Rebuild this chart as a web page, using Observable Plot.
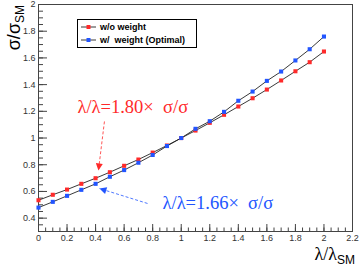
<!DOCTYPE html>
<html><head><meta charset="utf-8">
<script src="https://cdn.jsdelivr.net/npm/d3@7"></script>
<script src="https://cdn.jsdelivr.net/npm/@observablehq/plot@0.6"></script>
<style>
body{margin:0;background:#fff;}
#wrap{position:relative;width:359px;height:272px;overflow:hidden;}
.leg{position:absolute;left:77px;top:19px;width:118px;height:27px;border:1px solid #000;background:#fff;font:bold 9px "Liberation Sans",Arial,sans-serif;color:#000;}
.row{position:absolute;left:3px;height:12px;display:flex;align-items:center;white-space:pre;}
.row svg{margin-right:4px;}
.ann-text text{font-family:"Liberation Serif","Times New Roman",serif !important;}
</style></head>
<body><div id="wrap"></div>
<script>
const lambdas = [0,0.1,0.2,0.3,0.4,0.5,0.6,0.7,0.8,0.9,1.0,1.1,1.2,1.3,1.4,1.5,1.6,1.7,1.8,1.9,2.0];
const noWeight = [0.534,0.575,0.614,0.657,0.699,0.744,0.792,0.839,0.891,0.944,1.0,1.056,1.114,1.174,1.236,1.298,1.363,1.431,1.50,1.568,1.648];
const withWeight = [0.479,0.522,0.567,0.612,0.657,0.710,0.760,0.815,0.873,0.94,1.0,1.069,1.126,1.196,1.279,1.348,1.428,1.498,1.581,1.665,1.760];
const seriesNames = ["w/o weight", "w/  weight (Optimal)"];
const seriesColors = ["#ff2a2a", "#2255ff"];
const xMajor = [0,0.2,0.4,0.6,0.8,1.0,1.2,1.4,1.6,1.8,2.0,2.2];
const xMinor = d3.range(0, 2.2001, 0.05);
const yMajor = [0.4,0.6,0.8,1.0,1.2,1.4,1.6,1.8,2.0];
const yMinor = d3.range(0.3, 2.0001, 0.05);
const noteTexts = ["λ/λ=1.80×\u00a0\u00a0σ/σ", "λ/λ=1.66×\u00a0\u00a0σ/σ"];
const noteX = [0.273, 0.869];
const noteY = [1.191, 0.472];
const arrowX1 = [0.462, 0.764], arrowY1 = [1.124, 0.510];
const arrowX2 = [0.42, 0.427], arrowY2 = [0.757, 0.622];

const rows = lambdas.map((x,i)=>({x, y: noWeight[i], s: 0})).concat(lambdas.map((x,i)=>({x, y: withWeight[i], s: 1})));
const notes = noteTexts.map((t,i)=>({t, x: noteX[i], y: noteY[i], c: seriesColors[i]}));
const arrows = arrowX1.map((_,i)=>({x1: arrowX1[i], y1: arrowY1[i], x2: arrowX2[i], y2: arrowY2[i], c: seriesColors[i], i}));

const W = 359, H = 272, mL = 38, mR = 7, mT = 4, mB = 41;
const pw = W - mL - mR, ph = H - mT - mB;
const fmt = d => String(+d.toFixed(2));

const chart = Plot.plot({
  width: W, height: H, marginLeft: mL, marginRight: mR, marginTop: mT, marginBottom: mB,
  x: {domain: [0, 2.2]},
  y: {domain: [0.3, 2]},
  style: {fontFamily: '"Liberation Sans", Arial, sans-serif', fontSize: "9px", color: "#333", background: "#fff"},
  marks: [
    Plot.ruleX(xMinor, {x: d=>d, insetTop: ph - 3.5, stroke: "#444"}),
    Plot.ruleX(xMajor, {x: d=>d, insetTop: ph - 7, stroke: "#444"}),
    Plot.ruleY(yMinor, {y: d=>d, insetRight: pw - 5, stroke: "#444"}),
    Plot.ruleY(yMajor, {y: d=>d, insetRight: pw - 9, stroke: "#444"}),
    Plot.axisX({ticks: xMajor, tickSize: 0, tickPadding: 3, tickFormat: fmt, label: null}),
    Plot.axisY({ticks: yMajor, tickSize: 0, tickPadding: 3, tickFormat: fmt, label: null}),
    Plot.frame({stroke: "#444"}),
    Plot.line(rows, {x: "x", y: "y", z: "s", stroke: "#222", strokeWidth: 0.9}),
    Plot.dot(rows, {x: "x", y: "y", symbol: "square", r: 2.3, fill: d => seriesColors[d.s], stroke: null}),
    Plot.link(arrows, {x1: "x1", y1: "y1", x2: "x2", y2: "y2", stroke: "c", strokeWidth: 0.8, strokeDasharray: "3,2", className: "ann-arrow"}),
    Plot.text(notes, {x: "x", y: "y", text: "t", fill: "c", textAnchor: "start", lineAnchor: "bottom", fontSize: 18.5, className: "ann-text"})
  ]
});

const svg = d3.select(chart);
svg.selectAll(".ann-text text").attr("font-family", '"Liberation Serif", "Times New Roman", serif');
const defs = svg.append("defs");
seriesColors.forEach((c,i)=>{
  defs.append("marker").attr("id","ah"+i).attr("viewBox","0 0 10 10").attr("refX",10).attr("refY",5)
    .attr("markerUnits","userSpaceOnUse").attr("markerWidth",8).attr("markerHeight",7).attr("orient","auto")
    .append("path").attr("d","M0,0L10,5L0,10z").attr("fill",c);
});
svg.selectAll(".ann-arrow path").each(function(d,i){ d3.select(this).attr("marker-end","url(#ah"+i+")"); });

// axis titles
const xt = svg.append("text").attr("x", 355).attr("y", 260).attr("text-anchor","end")
  .attr("font-size", 18).attr("fill","#000").attr("font-family",'"Liberation Serif", serif');
xt.append("tspan").text("λ/λ");
xt.append("tspan").attr("dy", 4).attr("font-size", 12).attr("font-family",'"Liberation Sans", sans-serif').text("SM");
const yt = svg.append("text").attr("transform","translate(20,5) rotate(-90)").attr("text-anchor","end")
  .attr("font-size", 18).attr("fill","#000").attr("font-family",'"Liberation Sans", sans-serif');
yt.append("tspan").text("σ/σ");
yt.append("tspan").attr("dy", 4).attr("font-size", 12).text("SM");

const wrap = document.getElementById("wrap");
wrap.appendChild(chart);

// legend
const leg = document.createElement("div");
leg.className = "leg";
seriesNames.forEach((n,i)=>{
  const r = document.createElement("div");
  r.className = "row";
  r.style.top = (i === 0 ? 1 : 14) + "px";
  r.innerHTML = `<svg width="15" height="8"><line x1="0" y1="4" x2="15" y2="4" stroke="#222" stroke-width="0.9"/><rect x="5.5" y="2" width="4" height="4" fill="${seriesColors[i]}"/></svg>`;
  r.appendChild(document.createTextNode(n));
  leg.appendChild(r);
});
wrap.appendChild(leg);
</script></body></html>
